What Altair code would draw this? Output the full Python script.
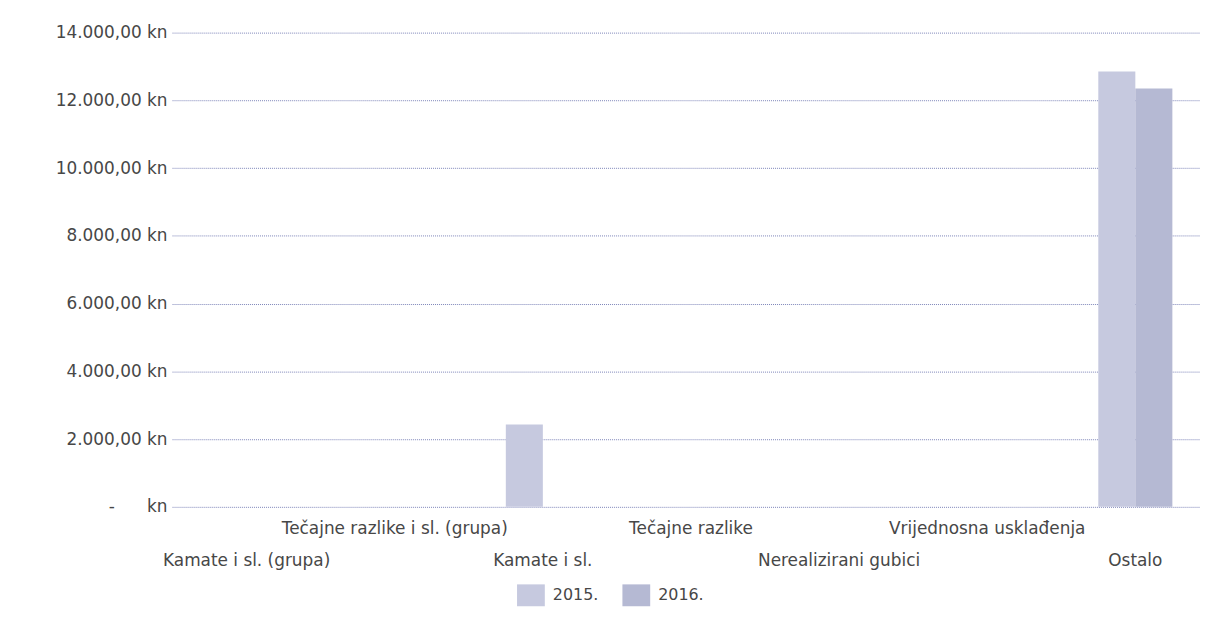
import altair as alt
import pandas as pd

categories = [
    "Kamate i sl. (grupa)",
    "Tečajne razlike i sl. (grupa)",
    "Kamate i sl.",
    "Tečajne razlike",
    "Nerealizirani gubici",
    "Vrijednosna usklađenja",
    "Ostalo",
]
label_rows = [1, 0, 1, 0, 1, 0, 1]
series = ["2015.", "2016."]
values_2015 = [0, 0, 2430, 0, 0, 0, 12850]
values_2016 = [0, 0, 0, 0, 0, 0, 12350]
colors = ["#c6c9df", "#b5b9d3"]
y_ticks = [0, 2000, 4000, 6000, 8000, 10000, 12000, 14000]

rows = []
for c, v1, v2 in zip(categories, values_2015, values_2016):
    rows.append({"cat": c, "series": series[0], "value": v1})
    rows.append({"cat": c, "series": series[1], "value": v2})
df = pd.DataFrame(rows)
labels_df = pd.DataFrame({"cat": categories, "row": label_rows})

W, H = 1034, 477
FONT = "DejaVu Sans"
TXT = "#474747"
NB = "\u00a0"
xscale = alt.Scale(domain=categories, paddingInner=0.5, paddingOuter=0.22, align=0.576)

label_expr = (
    "datum.value == 0 ? '-" + NB * 6 + "kn' : "
    "replace(replace(replace(format(datum.value, ',.2f'), ',', '#'), '.', ','), '#', '.') + ' kn'"
)

bars = alt.Chart(df).mark_bar().encode(
    x=alt.X("cat:N", scale=xscale, sort=categories, axis=None),
    xOffset=alt.XOffset("series:N", sort=series,
                        scale=alt.Scale(paddingInner=0, paddingOuter=0)),
    y=alt.Y(
        "value:Q",
        scale=alt.Scale(domain=[0, 14000], nice=False),
        axis=alt.Axis(
            values=y_ticks,
            labelExpr=label_expr,
            title=None,
            grid=True,
            gridDash=[1, 1],
            gridColor="#7d84b8",
            gridWidth=1,
            domain=False,
            ticks=False,
            labelFont=FONT,
            labelFontSize=17,
            labelColor=TXT,
            labelPadding=5,
        ),
    ),
    color=alt.Color(
        "series:N",
        scale=alt.Scale(domain=series, range=colors),
        legend=alt.Legend(
            orient="none",
            legendX=350,
            legendY=555,
            direction="horizontal",
            title=None,
            symbolType="M-1.27,-1H1.27V1H-1.27Z",
            symbolSize=484,
            symbolStrokeWidth=0,
            symbolOpacity=1,
            labelFont=FONT,
            labelFontSize=16,
            labelColor=TXT,
            labelOffset=11,
            columnPadding=24,
            padding=0,
        ),
    ),
)

text_top = alt.Chart(labels_df).transform_filter("datum.row == 0").mark_text(
    font=FONT, fontSize=17, color=TXT, baseline="middle", align="center"
).encode(
    x=alt.X("cat:N", scale=xscale, sort=categories, axis=None),
    y=alt.value(499),
    text="cat:N",
)

text_bottom = alt.Chart(labels_df).transform_filter("datum.row == 1").mark_text(
    font=FONT, fontSize=17, color=TXT, baseline="middle", align="center"
).encode(
    x=alt.X("cat:N", scale=xscale, sort=categories, axis=None),
    y=alt.value(532),
    text="cat:N",
)

chart = alt.layer(bars, text_top, text_bottom).properties(
    width=W,
    height=H,
    padding={"left": 165, "top": 23, "right": 0, "bottom": 100},
    autosize=alt.AutoSizeParams(type="none"),
    background="white",
).configure_view(stroke=None)

chart.save("out.html", embed_options={"renderer": "svg", "actions": False})
